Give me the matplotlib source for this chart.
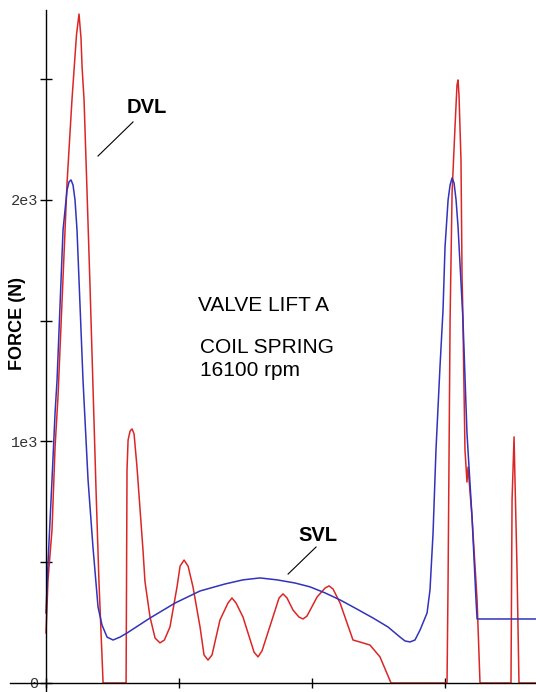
import matplotlib
matplotlib.use("Agg")
import matplotlib.pyplot as plt

# ---- data (cam angle units, force in N) ----
dvl_x = [0, 1.5, 4.5, 6.8, 9.0, 15.8, 19.5, 22.9, 24.8, 26.3, 27.1, 28.6, 30.8, 33.1, 35.3, 37.6,
         39.8, 42.1, 42.9,
         60.2, 60.9, 61.7, 63.2, 64.7, 66.2, 68.4, 72.9, 74.4, 78.2, 82.0, 85.7, 89.0, 93.2, 98.5,
         100.8, 103.8, 106.8, 110.5, 115.8, 118.8, 121.8, 124.8,
         130.8, 136.8, 139.8, 142.9, 148.1, 156.4, 159.4, 162.4, 169.9, 175.2, 178.2, 181.2,
         185.7, 190.2, 193.2, 196.2, 203.8, 209.8, 212.8, 215.8, 221.1, 230.8,
         238.3, 243.6, 251.1, 259.4, 301.5, 302.3, 303.8, 305.3, 307.5, 309.0, 309.8, 310.5,
         312.0, 312.8, 313.2, 315.0, 316.5, 317.3, 320.3, 324.1, 326.3, 349.6, 350.4, 351.9,
         352.6, 354.1, 355.6, 368.4]
dvl_y = [207, 427, 634, 977, 1184, 2070, 2414, 2683, 2770, 2671, 2551, 2414, 2040, 1640, 1230, 800,
         420, 110, 0,
         0, 882, 1006, 1043, 1052, 1031, 894, 551, 420, 273, 186, 166, 178, 232, 398,
         484, 509, 484, 398, 232, 116, 95, 116,
         261, 331, 352, 331, 273, 128, 108, 133, 261, 352, 369, 352,
         302, 273, 265, 277, 356, 393, 402, 389, 331, 178,
         166, 157, 108, 0, 0, 427, 1503, 2029, 2302, 2476, 2497, 2435,
         2166, 1681, 1586, 965, 832, 894, 687, 344, 0, 0, 758, 1019,
         841, 480, 0, 0]

svl_x = [0, 1.5, 4.5, 6.8, 8.3, 12.8, 15.8, 17.3, 18.8, 20.3, 21.8, 23.3, 27.8, 31.6, 35.3,
         39.1, 42.1, 45.9, 50.4, 55.6, 60.9, 78.2, 97.0, 115.8, 134.6, 148.1, 160.9, 173.7,
         187.2, 198.5, 209.8, 221.1, 233.8, 245.9, 257.1, 266.2, 269.9, 273.7, 277.4, 281.2,
         286.5, 288.7, 291.0, 293.2, 296.2, 298.5, 300.0, 302.3, 303.8, 305.3, 306.8, 308.3,
         309.8, 313.5, 316.5, 320.3, 323.3, 324.1, 368.4]
svl_y = [290, 497, 841, 1118, 1255, 1876, 2041, 2075, 2083, 2062, 2000, 1876, 1255, 841, 563,
         315, 240, 190, 178, 190, 207, 269, 331, 381, 410, 427, 435, 427,
         414, 398, 373, 344, 306, 269, 232, 190, 174, 170, 178, 219,
         290, 385, 621, 965, 1308, 1545, 1805, 2000, 2062, 2091, 2070, 2000,
         1888, 1503, 1035, 687, 344, 265, 265]

y_ticks = [0, 500, 1000, 1500, 2000, 2500]
y_tick_labels = ["0", "", "1e3", "", "2e3", ""]
x_ticks = [0, 100, 200, 300]

RED = "#dc2626"
BLUE = "#3232bc"

fig = plt.figure(figsize=(5.36, 6.92), dpi=100)
ax = fig.add_axes([0, 0, 1, 1])
ax.set_xlim(-34.6, 368.4)
ax.set_ylim(-37.3, 2828)

ax.plot(dvl_x, dvl_y, color=RED, lw=1.1, zorder=3)
ax.plot(svl_x, svl_y, color=BLUE, lw=1.1, zorder=4)

for s in ["top", "right"]:
    ax.spines[s].set_visible(False)
ax.spines["left"].set_position(("data", 0))
ax.spines["bottom"].set_position(("data", 0))
ax.spines["left"].set_bounds(-37.3, 2787)
ax.spines["bottom"].set_bounds(-27, 368.4)
for s in ["left", "bottom"]:
    ax.spines[s].set_linewidth(1.0)
    ax.spines[s].set_color("black")
    ax.spines[s].set_zorder(5)

ax.set_yticks(y_ticks)
ax.set_yticklabels(y_tick_labels, family="Liberation Mono", fontsize=11, color="#333333")
ax.set_xticks(x_ticks)
ax.set_xticklabels([])
ax.tick_params(axis="y", direction="inout", length=9, width=1.0, pad=1)
ax.tick_params(axis="x", direction="inout", length=7, width=1.0)
ax.patch.set_visible(False)

fig.text(18 / 536, 1 - 323 / 692, "FORCE (N)", rotation=90, ha="center", va="center",
         family="Liberation Sans", fontsize=13, fontweight="bold")

txt = dict(family="Liberation Sans", fontsize=15, color="black")
ax.text(163.2, 1565, "VALVE LIFT A", ha="center", va="center", **txt)
ax.text(115.8, 1391, "COIL SPRING", ha="left", va="center", **txt)
ax.text(115.8, 1292, "16100 rpm", ha="left", va="center", **txt)
ax.text(75.9, 2381, "DVL", ha="center", va="center", family="Liberation Sans",
        fontsize=14.5, fontweight="bold")
ax.text(204.5, 609, "SVL", ha="center", va="center", family="Liberation Sans",
        fontsize=14.5, fontweight="bold")
ax.plot([65.4, 39.1], [2323, 2182], color="black", lw=0.8)
ax.plot([203.0, 182.0], [563, 451], color="black", lw=0.8)

fig.savefig("out.png", dpi=100)
